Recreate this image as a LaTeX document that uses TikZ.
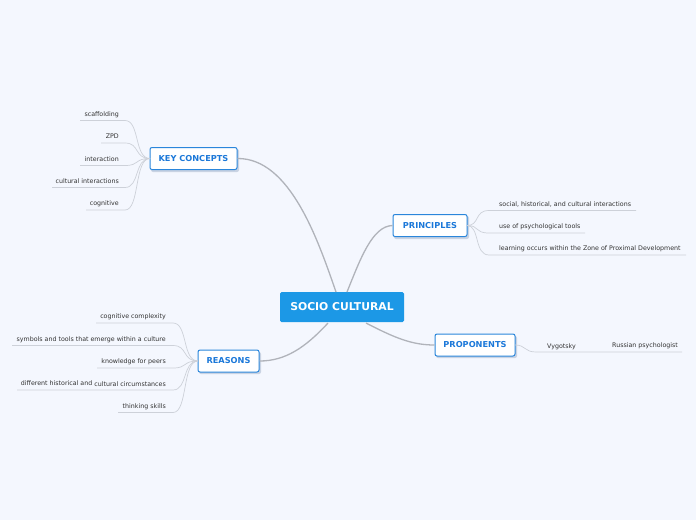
\documentclass[tikz,border=0pt]{standalone}
\usepackage{fontspec}
\setmainfont{DejaVu Sans}
\usetikzlibrary{calc}
\definecolor{bg}{HTML}{F4F7FE}
\definecolor{mainblue}{HTML}{1C98E6}
\definecolor{bordblue}{HTML}{2A86DB}
\definecolor{txtblue}{HTML}{1B78D9}
\definecolor{branchgray}{HTML}{B0B3BA}
\definecolor{leafgray}{HTML}{CDD1D9}
\definecolor{leaftxt}{HTML}{333333}
\definecolor{shadow}{HTML}{C9D3E3}
\tikzset{
  central/.style={fill=mainblue, text=white, font=\fontsize{10.8}{12}\selectfont\bfseries, rounded corners=1.5pt, minimum width=124pt, minimum height=30pt, inner sep=0pt},
  topic/.style={fill=white, draw=bordblue, line width=1pt, text=txtblue, font=\fontsize{8.2}{9}\selectfont\bfseries, rounded corners=2pt, minimum height=22pt, inner sep=0pt},
  leaf/.style={text=leaftxt, font=\fontsize{6.3}{7.5}\selectfont, inner sep=0pt},
  branch/.style={draw=branchgray, line width=1.3pt},
  leafline/.style={draw=leafgray, line width=0.7pt},
  shad/.style={fill=shadow, rounded corners=2pt},
}
\begin{document}
\begin{tikzpicture}[x=1pt,y=-1pt]
\useasboundingbox (0,0) rectangle (696,520);
\fill[bg] (0,0) rectangle (696,520);

% shadows of topic boxes
\fill[shad] (151,149) rectangle (239,172);
\fill[shad] (394,216) rectangle (469,239);
\fill[shad] (436,336) rectangle (517,358);
\fill[shad] (199,352) rectangle (261,374);

% main nodes
\node[central] (sc) at (342,307) {SOCIO CULTURAL};
\node[topic, minimum width=87pt] (kc) at (193.5,158.5) {KEY CONCEPTS};
\node[topic, minimum width=74pt] (pr) at (430,225.5) {PRINCIPLES};
\node[topic, minimum width=80pt] (po) at (475,345) {PROPONENTS};
\node[topic, minimum width=61pt] (re) at (228.5,361) {REASONS};

\coordinate (sKC) at (336,292);
\coordinate (sPR) at (347,292);
\coordinate (sPO) at (366,323);
\coordinate (sRE) at (328,323);

\draw[branch] (kc.east) .. controls (290,158) and (318,240) .. (sKC);
\draw[branch] (sPR) .. controls (360,260) and (372,226) .. (pr.west);
\draw[branch] (sPO) .. controls (395,338) and (412,345) .. (po.west);
\draw[branch] (sRE) .. controls (305,348) and (285,361) .. (re.east);

% KEY CONCEPTS leaves
\node[leaf, anchor=base east] (k1) at (119,116) {scaffolding};
\node[leaf, anchor=base east] (k2) at (119,138) {ZPD};
\node[leaf, anchor=base east] (k3) at (119,161) {interaction};
\node[leaf, anchor=base east] (k4) at (119,183) {cultural interactions};
\node[leaf, anchor=base east] (k5) at (119,205) {cognitive};
\coordinate (kcL) at (150,158.5);
\foreach \y/\xs in {120.5/80, 143/101, 165.5/80, 187.5/52, 210/86}{
  \draw[leafline] (\xs,\y) -- (125,\y) .. controls (140,\y) and (134,158.5) .. (kcL);
}

% REASONS leaves
\node[leaf, anchor=base east] (r1) at (166,318) {cognitive complexity};
\node[leaf, anchor=base east] (r2) at (166,341) {symbols and tools that emerge within a culture};
\node[leaf, anchor=base east] (r3) at (166,363) {knowledge for peers};
\node[leaf, anchor=base east] (r4a) at (92.5,385) {different historical and};
\node[leaf, anchor=base east] (r4) at (166,386) {cultural circumstances};
\node[leaf, anchor=base east] (r5) at (166,408) {thinking skills};
\coordinate (reL) at (198,361);
\foreach \y/\xs in {323/96, 345.5/12, 368/97, 390/17, 412.5/118}{
  \draw[leafline] (\xs,\y) -- (173,\y) .. controls (188,\y) and (182,361) .. (reL);
}

% PRINCIPLES leaves
\node[leaf, anchor=base west] (p1) at (499,206) {social, historical, and cultural interactions};
\node[leaf, anchor=base west] (p2) at (499,228) {use of psychological tools};
\node[leaf, anchor=base west] (p3) at (499,250) {learning occurs within the Zone of Proximal Development};
\coordinate (prR) at (467,225.5);
\foreach \y/\xe in {210.5/636, 233/585, 255/686}{
  \draw[leafline] (prR) .. controls (480,225.5) and (474,\y) .. (489,\y) -- (\xe,\y);
}

% PROPONENTS leaves
\node[leaf, anchor=base west] (v1) at (547,348) {Vygotsky};
\node[leaf, anchor=base west] (v2) at (612,347) {Russian psychologist};
\coordinate (poR) at (515,345);
\coordinate (vEnd) at (682,352);
\draw[leafline] (poR) .. controls (526,345) and (524,352) .. (536,352) -- (vEnd);
\end{tikzpicture}
\end{document}
